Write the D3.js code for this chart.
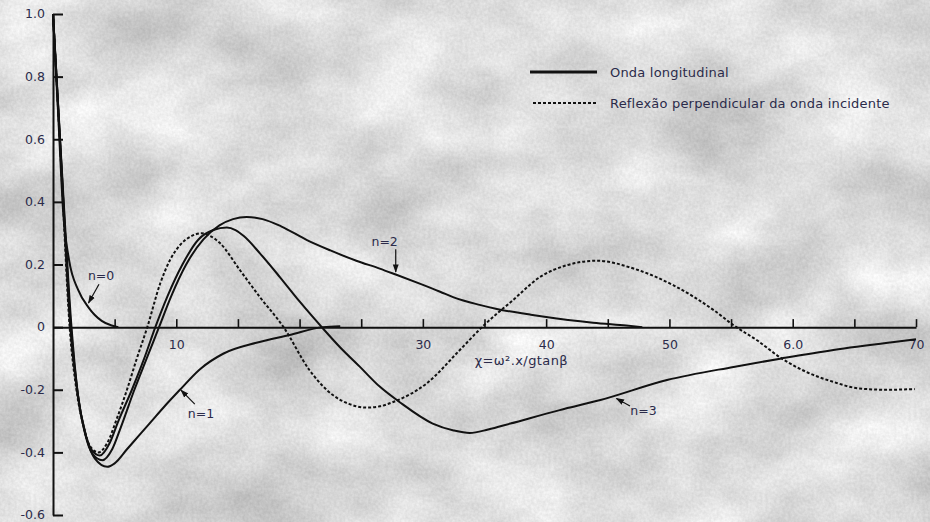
<!DOCTYPE html>
<html>
<head>
<meta charset="utf-8">
<script src="https://cdn.jsdelivr.net/npm/d3@7/dist/d3.min.js"></script>
<style>
  html, body { margin: 0; padding: 0; background: #dedede; }
  svg { display: block; }
  text { font-family: "DejaVu Sans", Verdana, sans-serif; }
</style>
</head>
<body>
<svg id="chart" width="930" height="522"></svg>
<script>
// Edge-wave amplitude profiles against chi = omega^2 x / (g tan beta)
const xTickValues = [5, 10, 15, 20, 25, 30, 35, 40, 45, 50, 55, 60, 65, 70];
const xLabelValues = [10, 30, 40, 50, 60, 70];
const xLabelTexts = ["10", "30", "40", "50", "6.0", "70"];
const yTickValues = [-0.6, -0.4, -0.2, 0, 0.2, 0.4, 0.6, 0.8, 1.0];
const yTickTexts = ["-0.6", "-0.4", "-0.2", "0", "0.2", "0.4", "0.6", "0.8", "1.0"];

const modeN0 = [[0, 1.0], [0.42, 0.68], [0.84, 0.36], [1.3, 0.215], [2.05, 0.118], [2.86, 0.064],
  [3.95, 0.02], [4.76, 0.005], [5.3, 0.0]];

const modeN1 = [[0, 1.0], [0.75, 0.48], [1.5, 0.0], [2.0, -0.21], [2.7, -0.35], [3.4, -0.42],
  [4.4, -0.446], [5.0, -0.435], [6.0, -0.39], [7.0, -0.345], [8.0, -0.3], [9.0, -0.255],
  [10.3, -0.2], [11.9, -0.135], [13.8, -0.085], [16.5, -0.05], [19.2, -0.025], [21.9, 0.0],
  [23.3, 0.003]];

const modeN2 = [[0, 1.0], [0.72, 0.49], [1.45, 0.0], [2.0, -0.21], [2.6, -0.34], [3.2, -0.405],
  [4.0, -0.425], [4.8, -0.39], [5.5, -0.32], [6.6, -0.2], [7.6, -0.1], [8.6, 0.0], [9.6, 0.1],
  [10.8, 0.2], [12.2, 0.28], [13.5, 0.325], [14.6, 0.345], [15.7, 0.352], [17.0, 0.345],
  [18.5, 0.322], [20.6, 0.278], [22.5, 0.245], [24.6, 0.212], [26.5, 0.187], [27.8, 0.168],
  [29.8, 0.138], [31.4, 0.113], [32.5, 0.095], [34.6, 0.071], [36.0, 0.058], [38.7, 0.04],
  [40.0, 0.032], [43.8, 0.014], [46.5, 0.005], [47.8, 0.0]];

const modeN3 = [[0, 1.0], [0.7, 0.5], [1.4, 0.0], [1.95, -0.2], [2.55, -0.33], [3.1, -0.39],
  [3.8, -0.41], [4.6, -0.37], [5.3, -0.3], [6.4, -0.2], [7.4, -0.1], [8.3, 0.0], [9.3, 0.1],
  [10.5, 0.2], [11.8, 0.28], [13.0, 0.31], [14.1, 0.318], [14.8, 0.31], [15.5, 0.29],
  [16.8, 0.235], [18.4, 0.16], [20.0, 0.082], [21.8, 0.0], [23.3, -0.065], [24.9, -0.127],
  [26.5, -0.19], [28.1, -0.239], [30.8, -0.308], [32.5, -0.33], [33.8, -0.338], [35.3, -0.327],
  [37.1, -0.308], [41.1, -0.265], [44.4, -0.233], [49.8, -0.169], [55.2, -0.127], [59.1, -0.1],
  [63.3, -0.073], [67.9, -0.049], [70.0, -0.039]];

const reflection = [[0, 1.0], [0.68, 0.5], [1.35, 0.0], [1.9, -0.2], [2.5, -0.32], [3.0, -0.38],
  [3.7, -0.4], [4.4, -0.37], [5.2, -0.29], [6.0, -0.2], [6.8, -0.1], [7.65, 0.0], [8.7, 0.14],
  [9.5, 0.215], [10.3, 0.262], [11.2, 0.29], [12.06, 0.3], [12.8, 0.29], [13.5, 0.27],
  [15.2, 0.18], [16.8, 0.095], [18.7, 0.0], [20.8, -0.137], [22.7, -0.217], [24.0, -0.245],
  [25.4, -0.257], [26.5, -0.253], [27.6, -0.239], [30.3, -0.18], [33.0, -0.073], [34.8, 0.0],
  [37.3, 0.086], [39.5, 0.16], [41.7, 0.198], [44.1, 0.212], [47.1, 0.187], [50.3, 0.134],
  [53.6, 0.054], [55.2, 0.006], [57.1, -0.042], [59.1, -0.1], [61.1, -0.143], [63.3, -0.175],
  [65.4, -0.196], [67.6, -0.2], [69.9, -0.198]];

const solidSeries = [modeN0, modeN1, modeN2, modeN3];

// Curve labels with leader arrows, placed in data units
const curveLabels = [
  { text: "n=0", at: [3.9, 0.166], from: [3.73, 0.137], to: [2.88, 0.077] },
  { text: "n=1", at: [12.0, -0.275], from: [11.5, -0.246], to: [10.38, -0.201] },
  { text: "n=2", at: [26.9, 0.272], from: [27.8, 0.249], to: [27.8, 0.176] },
  { text: "n=3", at: [47.9, -0.268], from: [46.8, -0.252], to: [45.7, -0.228] }
];

const legendItems = ["Onda longitudinal", "Reflexão perpendicular da onda incidente"];

const W = 930, H = 522;
const svg = d3.select("#chart");

// Stone-like backdrop: soft light-grey mottling plus a fine grain
const defs = svg.append("defs");
const tex = defs.append("filter").attr("id", "stone")
  .attr("x", 0).attr("y", 0).attr("width", "100%").attr("height", "100%")
  .attr("color-interpolation-filters", "sRGB");
tex.append("feTurbulence").attr("type", "fractalNoise")
  .attr("baseFrequency", "0.009 0.013").attr("numOctaves", 6).attr("seed", 11).attr("result", "coarse");
tex.append("feColorMatrix").attr("in", "coarse").attr("type", "matrix")
  .attr("values", "0.32 0 0 0 0.7  0.32 0 0 0 0.7  0.32 0 0 0 0.7  0 0 0 0 1")
  .attr("result", "coarseGrey");
tex.append("feTurbulence").attr("type", "fractalNoise")
  .attr("baseFrequency", "0.35").attr("numOctaves", 2).attr("seed", 3).attr("result", "fine");
tex.append("feColorMatrix").attr("in", "fine").attr("type", "matrix")
  .attr("values", "1 0 0 0 0  1 0 0 0 0  1 0 0 0 0  0 0 0 0 1")
  .attr("result", "fineGrey");
tex.append("feComposite").attr("in", "coarseGrey").attr("in2", "fineGrey")
  .attr("operator", "arithmetic").attr("k1", 0).attr("k2", 1).attr("k3", 0.1).attr("k4", -0.05);

defs.append("marker").attr("id", "arrowhead")
  .attr("viewBox", "0 0 10 10").attr("refX", 9).attr("refY", 5)
  .attr("markerWidth", 7).attr("markerHeight", 7).attr("orient", "auto")
  .append("path").attr("d", "M0,1.5 L10,5 L0,8.5 Z").attr("fill", "#111");

svg.append("rect").attr("width", W).attr("height", H).attr("fill", "#dedede");
svg.append("rect").attr("width", W).attr("height", H).attr("filter", "url(#stone)");

const x = d3.scaleLinear().domain([0, 70]).range([53, 916]);
const y = d3.scaleLinear().domain([-0.6, 1.0]).range([515, 14]);

const textColor = "#2b2b4a";
const inkColor = "#111";

// Y axis with inward ticks
const yAxis = d3.axisLeft(y)
  .tickValues(yTickValues)
  .tickFormat((d, i) => yTickTexts[i])
  .tickSizeInner(-10).tickSizeOuter(0).tickPadding(8);
const gy = svg.append("g").attr("transform", `translate(${x(0)},0)`).call(yAxis);
gy.select(".domain").attr("stroke", inkColor).attr("stroke-width", 2);
gy.selectAll(".tick line").attr("stroke", inkColor).attr("stroke-width", 2);
gy.selectAll(".tick text").attr("fill", textColor).attr("font-size", 12.5)
  .attr("font-family", "DejaVu Sans, Verdana, sans-serif").attr("dy", "0.3em");

// X axis along zero with upward ticks
const xAxis = d3.axisBottom(x)
  .tickValues(xTickValues)
  .tickFormat(d => { const k = xLabelValues.indexOf(d); return k >= 0 ? xLabelTexts[k] : ""; })
  .tickSizeInner(-8).tickSizeOuter(0).tickPadding(13);
const gx = svg.append("g").attr("transform", `translate(0,${y(0)})`).call(xAxis);
gx.select(".domain").attr("stroke", inkColor).attr("stroke-width", 2);
gx.selectAll(".tick line").attr("stroke", inkColor).attr("stroke-width", 1.6);
gx.selectAll(".tick text").attr("fill", textColor).attr("font-size", 12.5)
  .attr("font-family", "DejaVu Sans, Verdana, sans-serif");

svg.append("text")
  .attr("x", x(34.2)).attr("y", y(-0.122))
  .attr("font-size", 13).attr("letter-spacing", 0.4).attr("fill", textColor)
  .text("χ=ω².x/gtanβ");

const line = d3.line()
  .x(d => x(d[0])).y(d => y(d[1]))
  .curve(d3.curveMonotoneX);

svg.append("g").selectAll("path.solid").data(solidSeries).join("path")
  .attr("class", "solid")
  .attr("d", line)
  .attr("fill", "none").attr("stroke", inkColor).attr("stroke-width", 2)
  .attr("stroke-linejoin", "round");

svg.append("path").datum(reflection)
  .attr("d", line)
  .attr("fill", "none").attr("stroke", inkColor).attr("stroke-width", 2)
  .attr("stroke-dasharray", "3,2");

// Curve labels
const lab = svg.append("g").selectAll("g").data(curveLabels).join("g");
lab.append("line")
  .attr("x1", d => x(d.from[0])).attr("y1", d => y(d.from[1]))
  .attr("x2", d => x(d.to[0])).attr("y2", d => y(d.to[1]))
  .attr("stroke", inkColor).attr("stroke-width", 1.2)
  .attr("marker-end", "url(#arrowhead)");
lab.append("text")
  .attr("x", d => x(d.at[0])).attr("y", d => y(d.at[1]))
  .attr("dy", "0.35em").attr("text-anchor", "middle")
  .attr("font-size", 12.5).attr("fill", textColor)
  .text(d => d.text);

// Legend
const leg = svg.append("g").attr("transform", "translate(530,72)");
const legRows = leg.selectAll("g").data(legendItems).join("g")
  .attr("transform", (d, i) => `translate(0,${i * 31})`);
legRows.append("line")
  .attr("x1", (d, i) => i === 0 ? 0 : 3).attr("x2", 67).attr("y1", 0).attr("y2", 0)
  .attr("stroke", inkColor)
  .attr("stroke-width", (d, i) => i === 0 ? 3 : 2)
  .attr("stroke-dasharray", (d, i) => i === 0 ? null : "3,2");
legRows.append("text")
  .attr("x", 80).attr("y", 0).attr("dy", "0.35em")
  .attr("font-size", 13).attr("letter-spacing", 0.2).attr("fill", textColor)
  .text(d => d);
</script>
</body>
</html>
